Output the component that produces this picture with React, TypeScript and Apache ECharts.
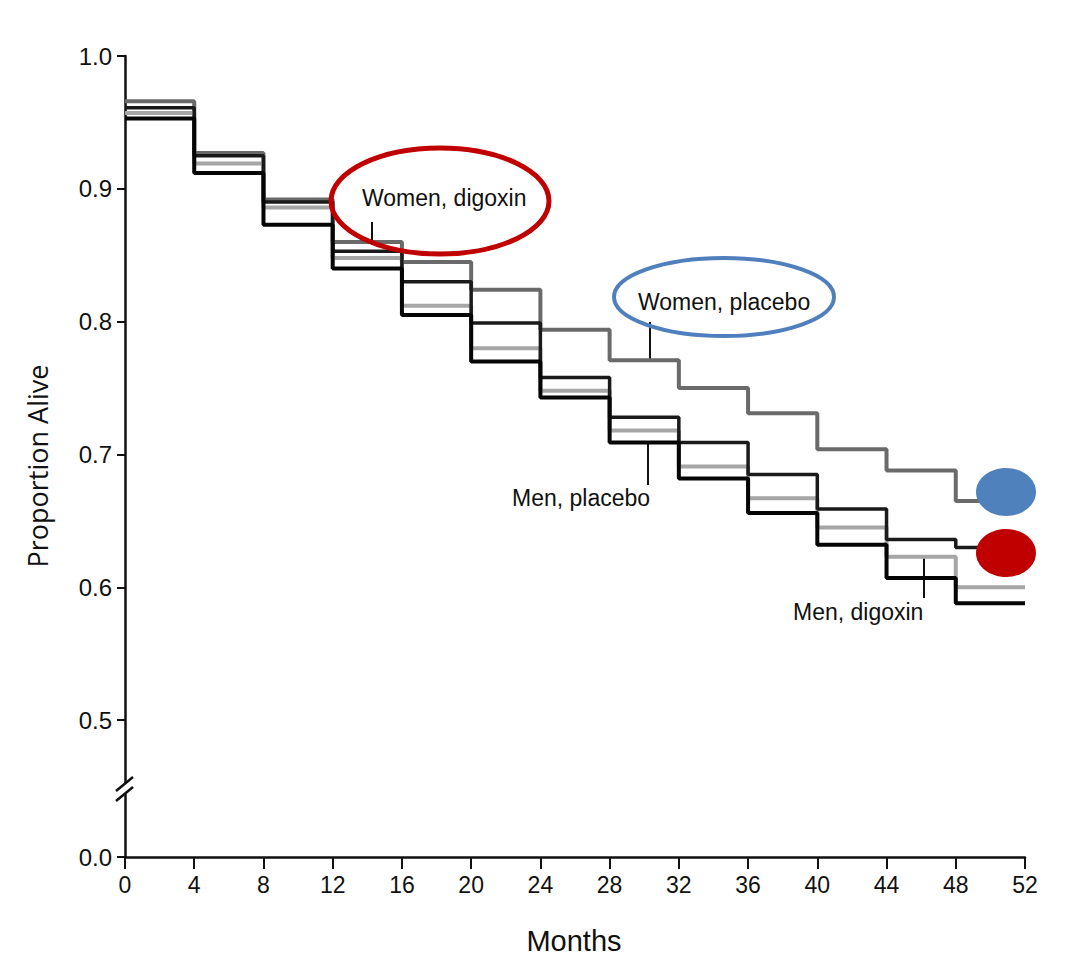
import React, { useEffect, useRef } from "react";
import * as echarts from "echarts";

// Months (each step at a 4-month mark; last point closes the final step)
const months = [0, 4, 8, 12, 16, 20, 24, 28, 32, 36, 40, 44, 48, 52];
// Proportion alive per interval (value held from that month until the next)
const womenPlacebo = [0.966, 0.927, 0.892, 0.860, 0.845, 0.824, 0.794, 0.771, 0.750, 0.731, 0.704, 0.688, 0.665, 0.665];
const womenDigoxin = [0.961, 0.925, 0.890, 0.853, 0.830, 0.799, 0.758, 0.728, 0.709, 0.685, 0.659, 0.636, 0.630, 0.630];
const menDigoxin = [0.957, 0.919, 0.886, 0.848, 0.812, 0.780, 0.748, 0.718, 0.691, 0.667, 0.645, 0.623, 0.600, 0.600];
const menPlacebo = [0.953, 0.912, 0.873, 0.840, 0.805, 0.770, 0.743, 0.709, 0.682, 0.656, 0.632, 0.607, 0.588, 0.588];

// Broken y axis: bottom of the axis is shown as 0.0
const yTickValues = [0.397, 0.5, 0.6, 0.7, 0.8, 0.9, 1.0];
const yTickLabels = ["0.0", "0.5", "0.6", "0.7", "0.8", "0.9", "1.0"];

const FONT = "'Liberation Sans', Arial, Helvetica, sans-serif";

function pairs(vals: number[]) {
  return months.map((m, i) => [m, vals[i]]);
}

export default function App() {
  const ref = useRef<HTMLDivElement>(null);
  useEffect(() => {
    if (!ref.current) return;
    const chart = echarts.init(ref.current, null, { renderer: "svg" });
    const lineSeries = (name: string, vals: number[], color: string, width: number) => ({
      name,
      type: "line",
      step: "end",
      data: pairs(vals),
      symbol: "none",
      lineStyle: { color, width },
      z: 3,
    });
    const txt = (text: string, x: number, y: number) => ({
      type: "text",
      x,
      y,
      style: { text, fontSize: 23, fontFamily: FONT, fill: "#111", textVerticalAlign: "middle", textAlign: "left" },
    });
    const ln = (x1: number, y1: number, x2: number, y2: number, w = 2) => ({
      type: "line",
      shape: { x1, y1, x2, y2 },
      style: { stroke: "#111", lineWidth: w },
    });
    chart.setOption({
      animation: false,
      backgroundColor: "#ffffff",
      grid: { left: 125, right: 47, top: 56, bottom: 106, containLabel: false },
      xAxis: {
        type: "value",
        min: 0,
        max: 52,
        interval: 4,
        axisLine: { show: true, onZero: false, lineStyle: { color: "#111", width: 2.5 } },
        axisTick: { show: true, length: 12, lineStyle: { color: "#111", width: 2 } },
        axisLabel: { fontSize: 23, color: "#111", fontFamily: FONT, margin: 16 },
        splitLine: { show: false },
      },
      yAxis: {
        type: "value",
        min: 0.397,
        max: 1.0,
        axisLine: { show: true, onZero: false, lineStyle: { color: "#111", width: 2.5 } },
        axisTick: { show: true, length: 8, customValues: yTickValues, lineStyle: { color: "#111", width: 2 } },
        axisLabel: {
          customValues: yTickValues,
          showMinLabel: true,
          showMaxLabel: true,
          fontSize: 24,
          color: "#111",
          fontFamily: FONT,
          margin: 13,
          formatter: (v: number) => {
            const i = yTickValues.findIndex((t) => Math.abs(t - v) < 1e-6);
            return i >= 0 ? yTickLabels[i] : "";
          },
        },
        splitLine: { show: false },
      },
      series: [
        lineSeries("Women, placebo", womenPlacebo, "#6a6a6a", 4),
        lineSeries("Men, digoxin", menDigoxin, "#a6a6a6", 4),
        lineSeries("Women, digoxin", womenDigoxin, "#1a1a1a", 3.5),
        lineSeries("Men, placebo", menPlacebo, "#050505", 4),
      ],
      graphic: [
        // axis break
        { type: "rect", shape: { x: 119, y: 783, width: 12, height: 10 }, style: { fill: "#ffffff" }, z: 100 },
        { type: "line", shape: { x1: 116, y1: 791, x2: 133, y2: 777 }, style: { stroke: "#111", lineWidth: 2.5 }, z: 101 },
        { type: "line", shape: { x1: 116, y1: 801, x2: 133, y2: 787 }, style: { stroke: "#111", lineWidth: 2.5 }, z: 101 },
        // axis titles
        {
          type: "text",
          x: 574,
          y: 941,
          style: { text: "Months", fontSize: 29, fontFamily: FONT, fill: "#111", textAlign: "center", textVerticalAlign: "middle" },
        },
        {
          type: "text",
          x: 37,
          y: 466,
          rotation: Math.PI / 2,
          style: { text: "Proportion Alive", fontSize: 27, fontFamily: "'Open Sans', 'Noto Sans', sans-serif", fill: "#111", textAlign: "center", textVerticalAlign: "middle" },
        },
        // curve labels and pointers
        txt("Women, digoxin", 362, 198),
        ln(372, 222, 372, 245),
        txt("Women, placebo", 638, 302),
        ln(650, 322, 650, 361),
        txt("Men, placebo", 512, 498),
        ln(648, 443, 648, 485),
        txt("Men, digoxin", 793, 612),
        ln(924, 556, 924, 598),
        // highlight ellipses
        { type: "ellipse", shape: { cx: 440, cy: 201, rx: 109, ry: 53 }, style: { fill: "transparent", stroke: "#c00000", lineWidth: 5 }, z: 110 },
        { type: "ellipse", shape: { cx: 724, cy: 297, rx: 110, ry: 39 }, style: { fill: "transparent", stroke: "#4f7fbd", lineWidth: 4 }, z: 110 },
        { type: "ellipse", shape: { cx: 1006, cy: 492, rx: 30, ry: 24 }, style: { fill: "#4f81bd" }, z: 110 },
        { type: "ellipse", shape: { cx: 1006, cy: 553, rx: 30, ry: 24 }, style: { fill: "#c00000" }, z: 110 },
      ],
    });
    return () => chart.dispose();
  }, []);
  return (
    <div
      ref={ref}
      style={{ position: "fixed", left: 0, top: 0, width: 1072, height: 963, background: "#fff" }}
    />
  );
}
